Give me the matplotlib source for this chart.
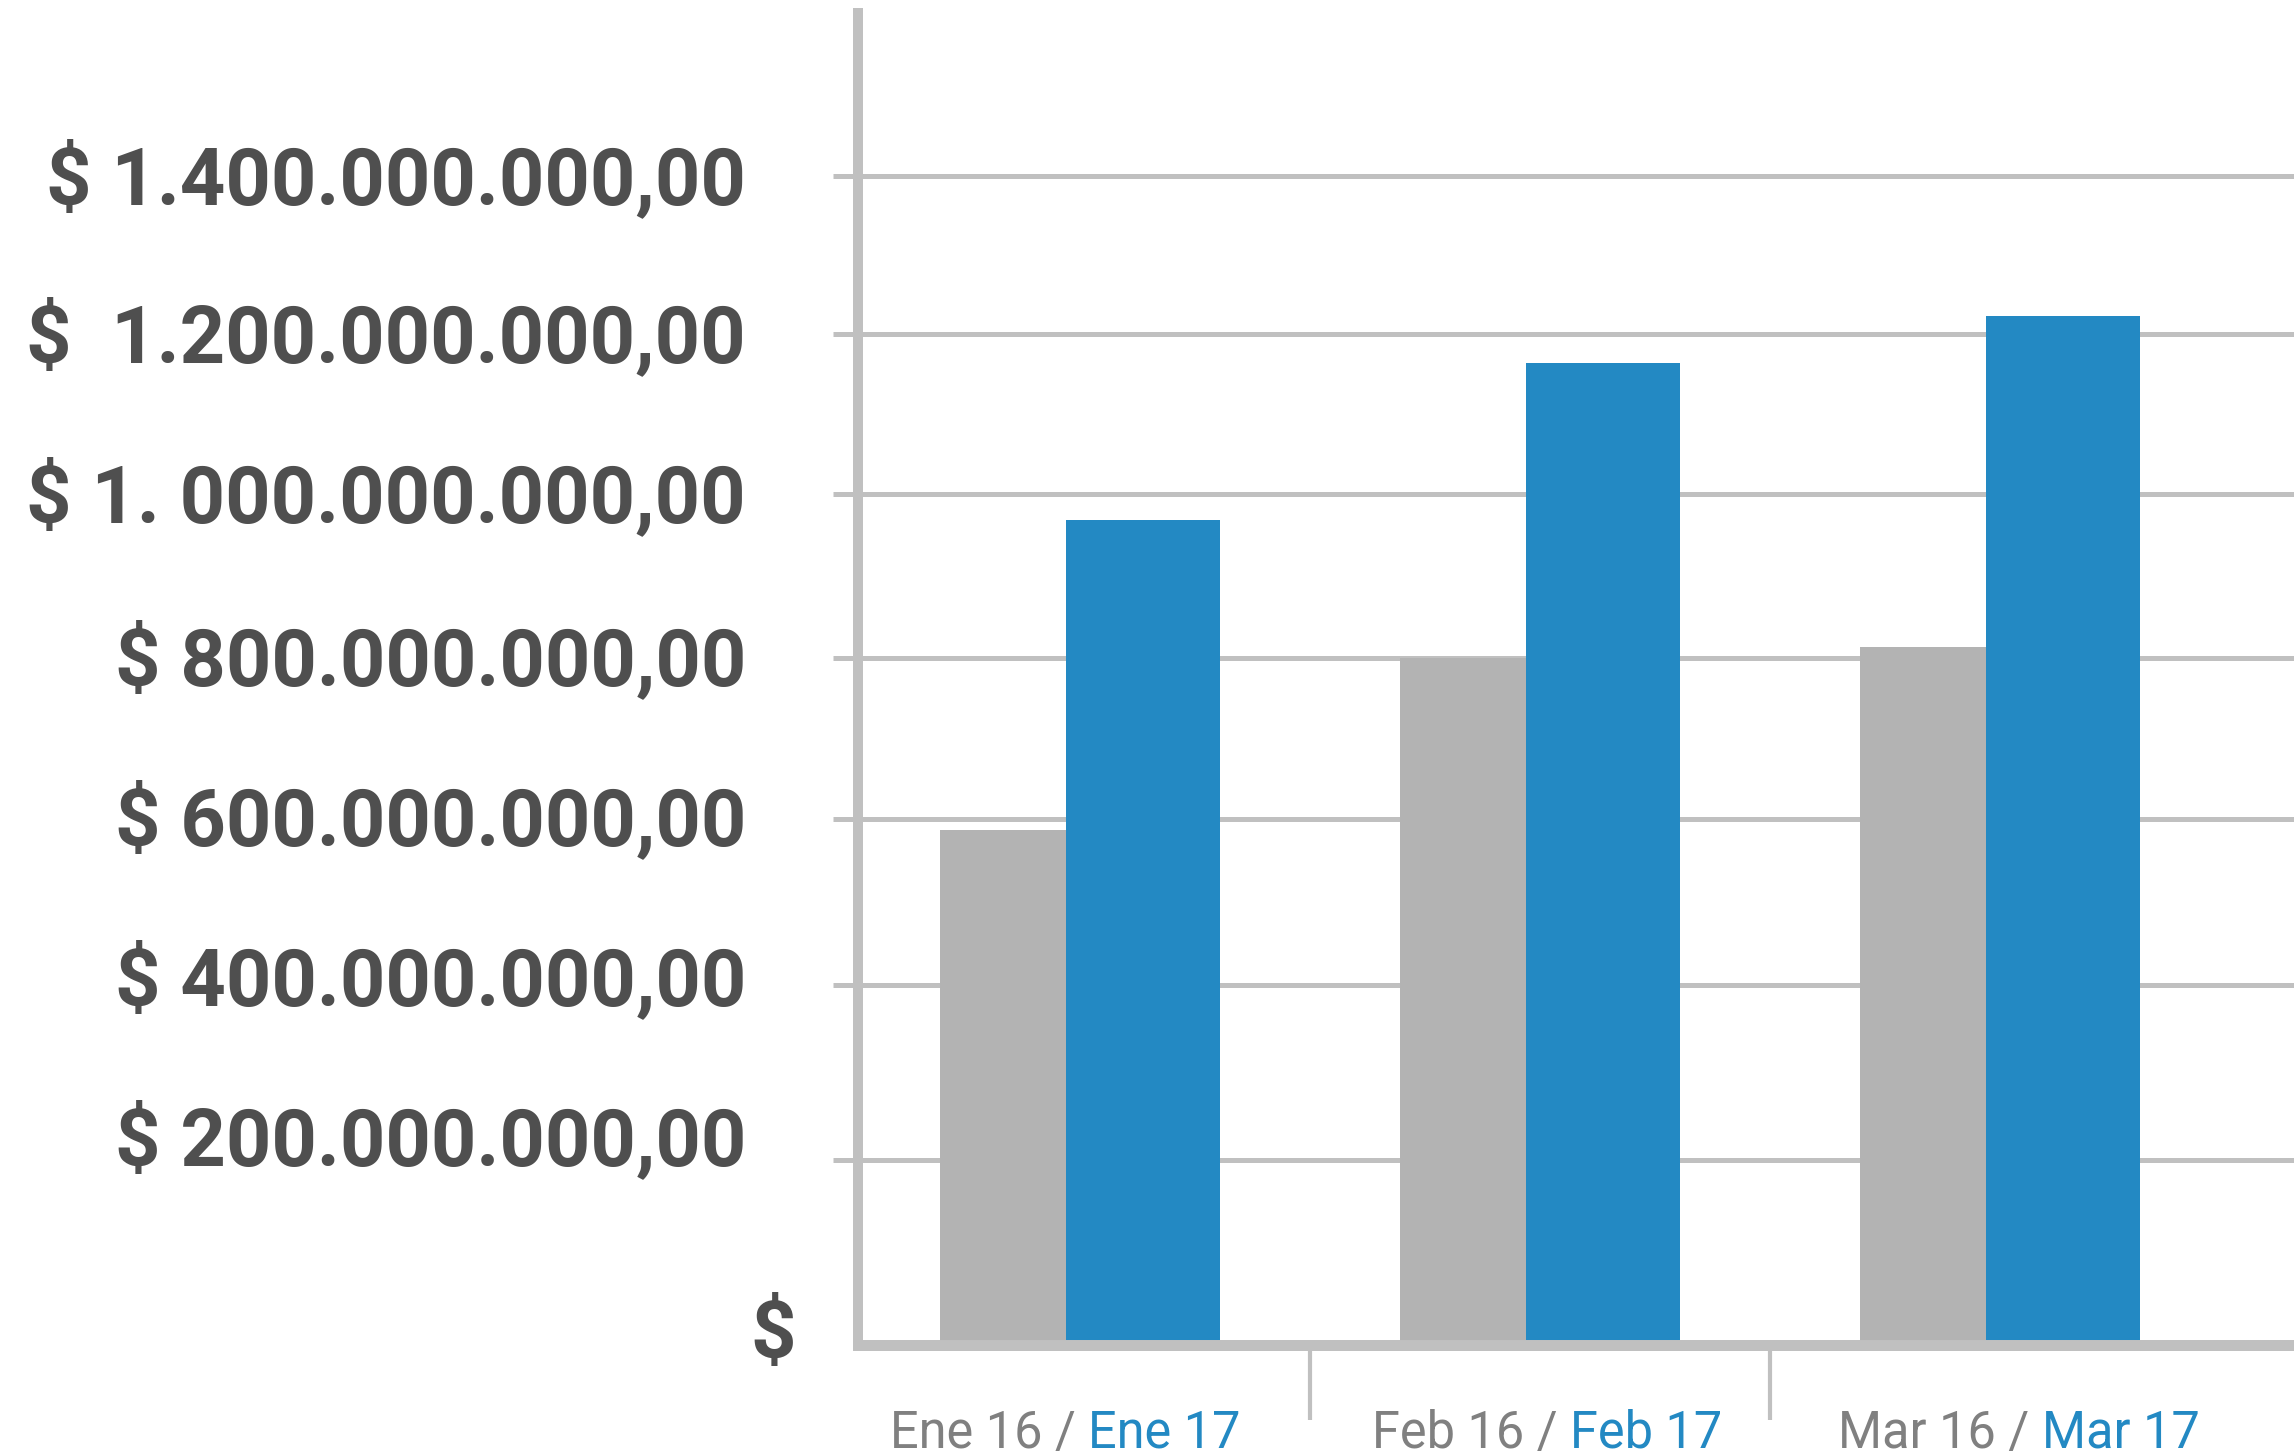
import numpy as np
import matplotlib
matplotlib.use("Agg")
import matplotlib.pyplot as plt
from matplotlib.transforms import blended_transform_factory, offset_copy, ScaledTranslation

# ---------------- data ----------------
labels_prev = ["Ene 16", "Feb 16", "Mar 16"]
labels_curr = ["Ene 17", "Feb 17", "Mar 17"]
values_prev = [586, 800, 814]        # millones de pesos
values_curr = [968, 1163, 1222]      # millones de pesos
ytick_values = [0, 200, 400, 600, 800, 1000, 1200, 1400]
ytick_labels = ["$",
                "$ 200.000.000,00",
                "$ 400.000.000,00",
                "$ 600.000.000,00",
                "$ 800.000.000,00",
                "$ 1. 000.000.000,00",
                "$  1.200.000.000,00",
                "$ 1.400.000.000,00"]

# ---------------- style ----------------
BLUE = "#2389c3"
BAR_GRAY = "#b3b3b3"
LINE_GRAY = "#c0c0c0"
TEXT_DARK = "#4f4f4f"
TEXT_GRAY = "#808080"
plt.rcParams["font.family"] = ["Roboto", "DejaVu Sans"]

# the original chart's vertical axis is not evenly spaced: piecewise scale
SCALE_V = [0, 200, 400, 600, 800, 1000, 1200, 1400, 1600, 1800]
SCALE_H = [0, 185, 360, 526.5, 687, 851, 1011.5, 1169.3, 1327.6, 1486]
# vertical nudge (pixels, + = down) of each y label relative to its gridline
LABEL_NUDGE = [0, -23, -8, -2, -1, 0, 0, 0]
# horizontal nudge (pixels) of each category label
XLABEL_NUDGE = [-15, 7, 19]


def fwd(v):
    return np.interp(v, SCALE_V, SCALE_H)


def inv(h):
    return np.interp(h, SCALE_H, SCALE_V)


W, H = 2294, 1456
DPI = 100
fig = plt.figure(figsize=(W / DPI, H / DPI), dpi=DPI)
ax = fig.add_axes([858 / W, 111 / H, 1 - 858 / W, 1332 / H])

x = np.arange(len(labels_prev))
ax.bar(x - 0.1675, values_prev, width=0.274, color=BAR_GRAY, zorder=2)
ax.bar(x + 0.137, values_curr, width=0.335, color=BLUE, zorder=2)

ax.set_xlim(-0.483, 2.640)
ax.set_yscale("function", functions=(fwd, inv))
ax.set_ylim(0, 1606)

YFS = 57.2
ax.set_yticks(ytick_values)
ax.set_yticklabels([""] + ytick_labels[1:])
ax.yaxis.grid(True, color=LINE_GRAY, linewidth=3.6)
ax.set_axisbelow(True)
ax.tick_params(axis="y", direction="out", length=18, width=3.6,
               color=LINE_GRAY, pad=62.6, labelsize=YFS, labelcolor=TEXT_DARK)
ax.yaxis.get_major_ticks()[0].tick1line.set_visible(False)

CAP_HALF = 0.711 * YFS / 72 * DPI / 2      # half the cap height in pixels
for lbl, nudge in zip(ax.get_yticklabels(), LABEL_NUDGE):
    lbl.set_fontweight("bold")
    lbl.set_verticalalignment("baseline")
    lbl.set_transform(lbl.get_transform() +
                      ScaledTranslation(0, -(CAP_HALF + nudge) / DPI,
                                        fig.dpi_scale_trans))

ax.set_xticks([])
ax.set_xticks([0.5, 1.5], minor=True)
ax.tick_params(axis="x", which="minor", direction="out", length=54, width=3,
               color=LINE_GRAY, labelbottom=False)

for s in ("top", "right"):
    ax.spines[s].set_visible(False)
ax.spines["left"].set_color(LINE_GRAY)
ax.spines["left"].set_linewidth(7.2)
ax.spines["bottom"].set_color(LINE_GRAY)
ax.spines["bottom"].set_linewidth(7.9)
ax.spines["bottom"].set_capstyle("projecting")

# zero label "$"
ax.annotate(ytick_labels[0], xy=(0, 0),
            xycoords=blended_transform_factory(ax.transAxes, ax.transData),
            xytext=(-62 * 0.72, 9 * 0.72), textcoords="offset points",
            ha="right", va="center", fontsize=YFS, fontweight="bold",
            color=TEXT_DARK)

# two-coloured category labels
renderer = fig.canvas.get_renderer()
base = blended_transform_factory(ax.transData, ax.transAxes)
ybase = (1345 - 1448) / 1332
FS = 36.4


def text_width(s):
    t = fig.text(0, 0, s, fontsize=FS)
    w = t.get_window_extent(renderer).width
    t.remove()
    return w


space_w = text_width("n n") - text_width("nn")
for i in range(len(labels_prev)):
    p1 = labels_prev[i] + " /"
    w1 = text_width(p1)
    w2 = text_width(labels_curr[i])
    total = w1 + space_w + w2
    start = -total / 2 + XLABEL_NUDGE[i]
    ax.text(i, ybase, p1, fontsize=FS, color=TEXT_GRAY, ha="left", va="baseline",
            transform=offset_copy(base, fig, x=start, y=0, units="dots"),
            clip_on=False)
    ax.text(i, ybase, labels_curr[i], fontsize=FS, color=BLUE, ha="left",
            va="baseline",
            transform=offset_copy(base, fig, x=start + w1 + space_w, y=0,
                                  units="dots"),
            clip_on=False)

fig.savefig("out.png", dpi=DPI, facecolor="white")
